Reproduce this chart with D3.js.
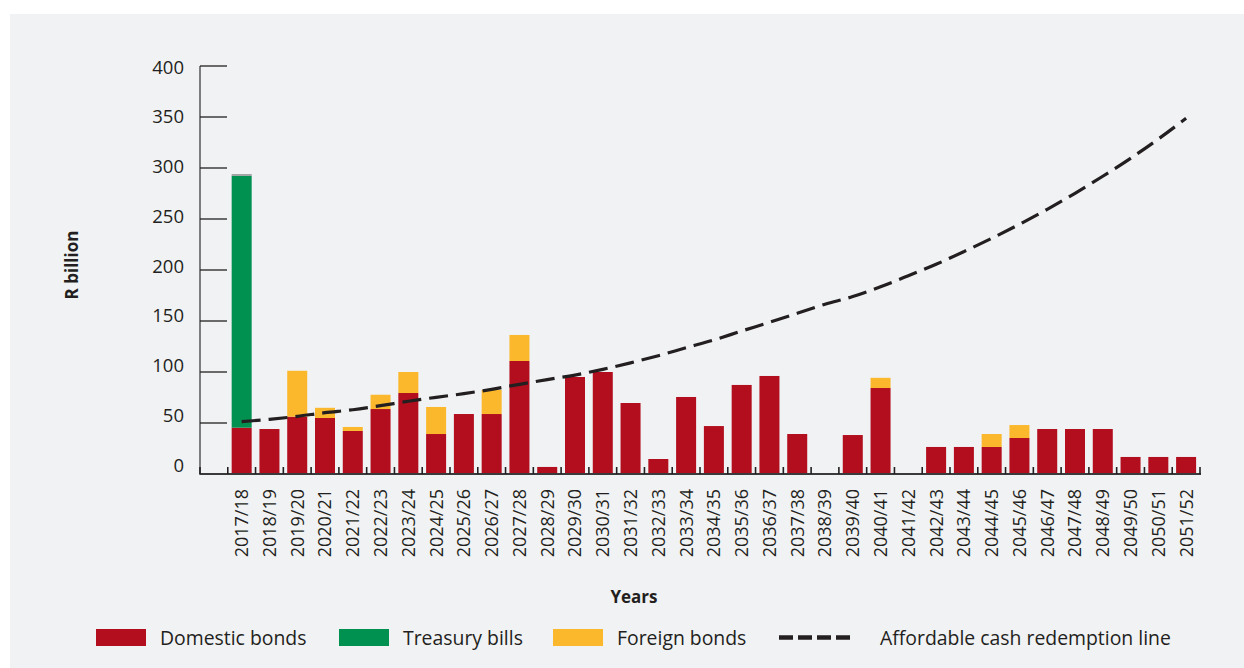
<!DOCTYPE html>
<html>
<head>
<meta charset="utf-8">
<script src="https://cdn.jsdelivr.net/npm/d3@7"></script>
<style>
  html, body { margin: 0; padding: 0; background: #ffffff; }
  svg { display: block; }
  text { font-family: "Open Sans", "Noto Sans", sans-serif; fill: #231f20; }
</style>
</head>
<body>
<svg id="chart" width="1244" height="668"></svg>
<script>
// Fiscal years on the category axis
const years = [
  "2017/18","2018/19","2019/20","2020/21","2021/22","2022/23","2023/24","2024/25",
  "2025/26","2026/27","2027/28","2028/29","2029/30","2030/31","2031/32","2032/33",
  "2033/34","2034/35","2035/36","2036/37","2037/38","2038/39","2039/40","2040/41",
  "2041/42","2042/43","2043/44","2044/45","2045/46","2046/47","2047/48","2048/49",
  "2049/50","2050/51","2051/52"
];

// Redemptions, R billion
const domesticBonds = [45.4, 44.1, 56.2, 54.9, 42.2, 63.7, 79.4, 39.2, 58.8, 58.8, 110.8, 6.9,
  95.1, 100, 69.6, 14.7, 75.5, 47, 87.3, 96.1, 39.2, 0, 38.2, 84.3, 0, 26.5, 26.5, 26.5,
  35.3, 44.1, 44.1, 44.1, 16.7, 16.7, 16.7];
const treasuryBills = [247, 0, 0, 0, 0, 0, 0, 0, 0, 0, 0, 0, 0, 0, 0, 0, 0, 0, 0, 0,
  0, 0, 0, 0, 0, 0, 0, 0, 0, 0, 0, 0, 0, 0, 0];
const foreignBonds = [0, 0, 45, 10, 3.9, 14, 20.6, 26.5, 0, 23.6, 25.5, 0, 0, 0, 0, 0,
  0, 0, 0, 0, 0, 0, 0, 10, 0, 0, 0, 12.7, 12.7, 0, 0, 0, 0, 0, 0];
const otherDebt = [1.6, 0, 0, 0, 0, 0, 0, 0, 0, 0, 0, 0, 0, 0, 0, 0, 0, 0, 0, 0,
  0, 0, 0, 0, 0, 0, 0, 0, 0, 0, 0, 0, 0, 0, 0];

// Affordable cash redemption line, R billion
const redemptionLine = [51.3, 53.6, 56.5, 60.1, 63, 67, 71.3, 75.2, 78.8, 83, 87.9, 92.6,
  97, 102.6, 109, 116, 123.8, 131.4, 140.2, 148.7, 157.5, 166.4, 174, 183.6, 194.4,
  205.6, 218, 231, 244.8, 259.5, 275.2, 291.9, 309.5, 328.4, 348.7];

const yTicks = [0, 50, 100, 150, 200, 250, 300, 350, 400];

const seriesKeys = ["domestic", "treasury", "foreign", "other"];
const seriesColors = {
  domestic: "#b20e1d",
  treasury: "#00904f",
  foreign: "#fbb82d",
  other: "#9a9a9a"
};
const legendItems = [
  { label: "Domestic bonds", type: "rect", color: seriesColors.domestic },
  { label: "Treasury bills", type: "rect", color: seriesColors.treasury },
  { label: "Foreign bonds", type: "rect", color: seriesColors.foreign },
  { label: "Affordable cash redemption line", type: "dash", color: "#231f20" }
];

const rows = years.map((y, i) => ({
  year: y,
  domestic: domesticBonds[i],
  treasury: treasuryBills[i],
  foreign: foreignBonds[i],
  other: otherDebt[i]
}));

const svg = d3.select("#chart");

// panel background
svg.append("rect")
  .attr("x", 10).attr("y", 14)
  .attr("width", 1234).attr("height", 654)
  .attr("fill", "#f1f2f4");

const axisLeft = 200, axisRight = 1200, axisTop = 66, axisBottom = 474;
const step0 = (axisRight - axisLeft) / 36;

const x = d3.scaleBand()
  .domain(years)
  .range([axisLeft + step0, axisRight])
  .paddingInner(0.28)
  .paddingOuter(0.14);

const y = d3.scaleLinear().domain([0, 400]).range([axisBottom, axisTop]);
const labelY = d3.scaleLinear().domain([0, 400]).range([465, 67]);

// stacked bars
const stack = d3.stack().keys(seriesKeys);
const stacked = stack(rows);

const barG = svg.append("g");
barG.selectAll("g.series")
  .data(stacked)
  .join("g")
  .attr("class", "series")
  .attr("fill", d => seriesColors[d.key])
  .selectAll("rect")
  .data(d => d.filter(s => s[1] - s[0] > 0))
  .join("rect")
  .attr("x", d => x(d.data.year))
  .attr("width", x.bandwidth())
  .attr("y", d => y(d[1]))
  .attr("height", d => y(d[0]) - y(d[1]));

// y axis: vertical line plus inward ticks
const yAxisG = svg.append("g");
yAxisG.append("line")
  .attr("x1", axisLeft).attr("x2", axisLeft)
  .attr("y1", axisTop).attr("y2", axisBottom + 1)
  .attr("stroke", "#5f6062").attr("stroke-width", 1.6);
yAxisG.selectAll("line.tick")
  .data(yTicks)
  .join("line")
  .attr("class", "tick")
  .attr("x1", axisLeft).attr("x2", axisLeft + 27)
  .attr("y1", d => y(d)).attr("y2", d => y(d))
  .attr("stroke", "#231f20").attr("stroke-width", 1.3);
yAxisG.selectAll("text")
  .data(yTicks)
  .join("text")
  .attr("x", 184)
  .attr("y", d => labelY(d))
  .attr("dy", "0.36em")
  .attr("text-anchor", "end")
  .attr("font-size", 18.5)
  .text(d => d);

// x axis baseline with band-edge ticks
const xAxisG = svg.append("g");
xAxisG.append("line")
  .attr("x1", axisLeft).attr("x2", axisRight + 1)
  .attr("y1", axisBottom).attr("y2", axisBottom)
  .attr("stroke", "#3a3a3c").attr("stroke-width", 2);
const edges = d3.range(37).map(k => axisLeft + k * step0);
xAxisG.selectAll("line.tick")
  .data(edges)
  .join("line")
  .attr("class", "tick")
  .attr("x1", d => d).attr("x2", d => d)
  .attr("y1", axisBottom).attr("y2", axisBottom - 7)
  .attr("stroke", "#231f20").attr("stroke-width", 1.6);
xAxisG.selectAll("text")
  .data(years)
  .join("text")
  .attr("transform", d => `translate(${x(d) + x.bandwidth() / 2},489) rotate(-90)`)
  .attr("dy", "0.36em")
  .attr("text-anchor", "end")
  .attr("font-size", 18)
  .text(d => d);

// affordable cash redemption line
const line = d3.line()
  .x((d, i) => x(years[i]) + x.bandwidth() / 2)
  .y(d => y(d))
  .curve(d3.curveMonotoneX);
svg.append("path")
  .datum(redemptionLine)
  .attr("d", line)
  .attr("fill", "none")
  .attr("stroke", "#231f20")
  .attr("stroke-width", 3.2)
  .attr("stroke-dasharray", "19,8");

// axis titles
svg.append("text")
  .attr("transform", "translate(72,265) rotate(-90)")
  .attr("dy", "0.36em")
  .attr("text-anchor", "middle")
  .attr("font-size", 17)
  .attr("font-weight", "bold")
  .text("R billion");
svg.append("text")
  .attr("x", 634).attr("y", 597)
  .attr("dy", "0.36em")
  .attr("text-anchor", "middle")
  .attr("font-size", 17)
  .attr("font-weight", "bold")
  .text("Years");

// legend
const legendX = [96, 339, 553, 779];
const legendTextX = [160, 403, 617, 880];
const legG = svg.append("g");
legendItems.forEach((item, i) => {
  if (item.type === "rect") {
    legG.append("rect")
      .attr("x", legendX[i]).attr("y", 629)
      .attr("width", 50).attr("height", 17)
      .attr("fill", item.color);
  } else {
    legG.append("line")
      .attr("x1", legendX[i]).attr("x2", legendX[i] + 72)
      .attr("y1", 637.5).attr("y2", 637.5)
      .attr("stroke", item.color)
      .attr("stroke-width", 4.5)
      .attr("stroke-dasharray", "14,5");
  }
  legG.append("text")
    .attr("x", legendTextX[i]).attr("y", 638)
    .attr("dy", "0.36em")
    .attr("font-size", 19.4)
    .text(item.label);
});
</script>
</body>
</html>
